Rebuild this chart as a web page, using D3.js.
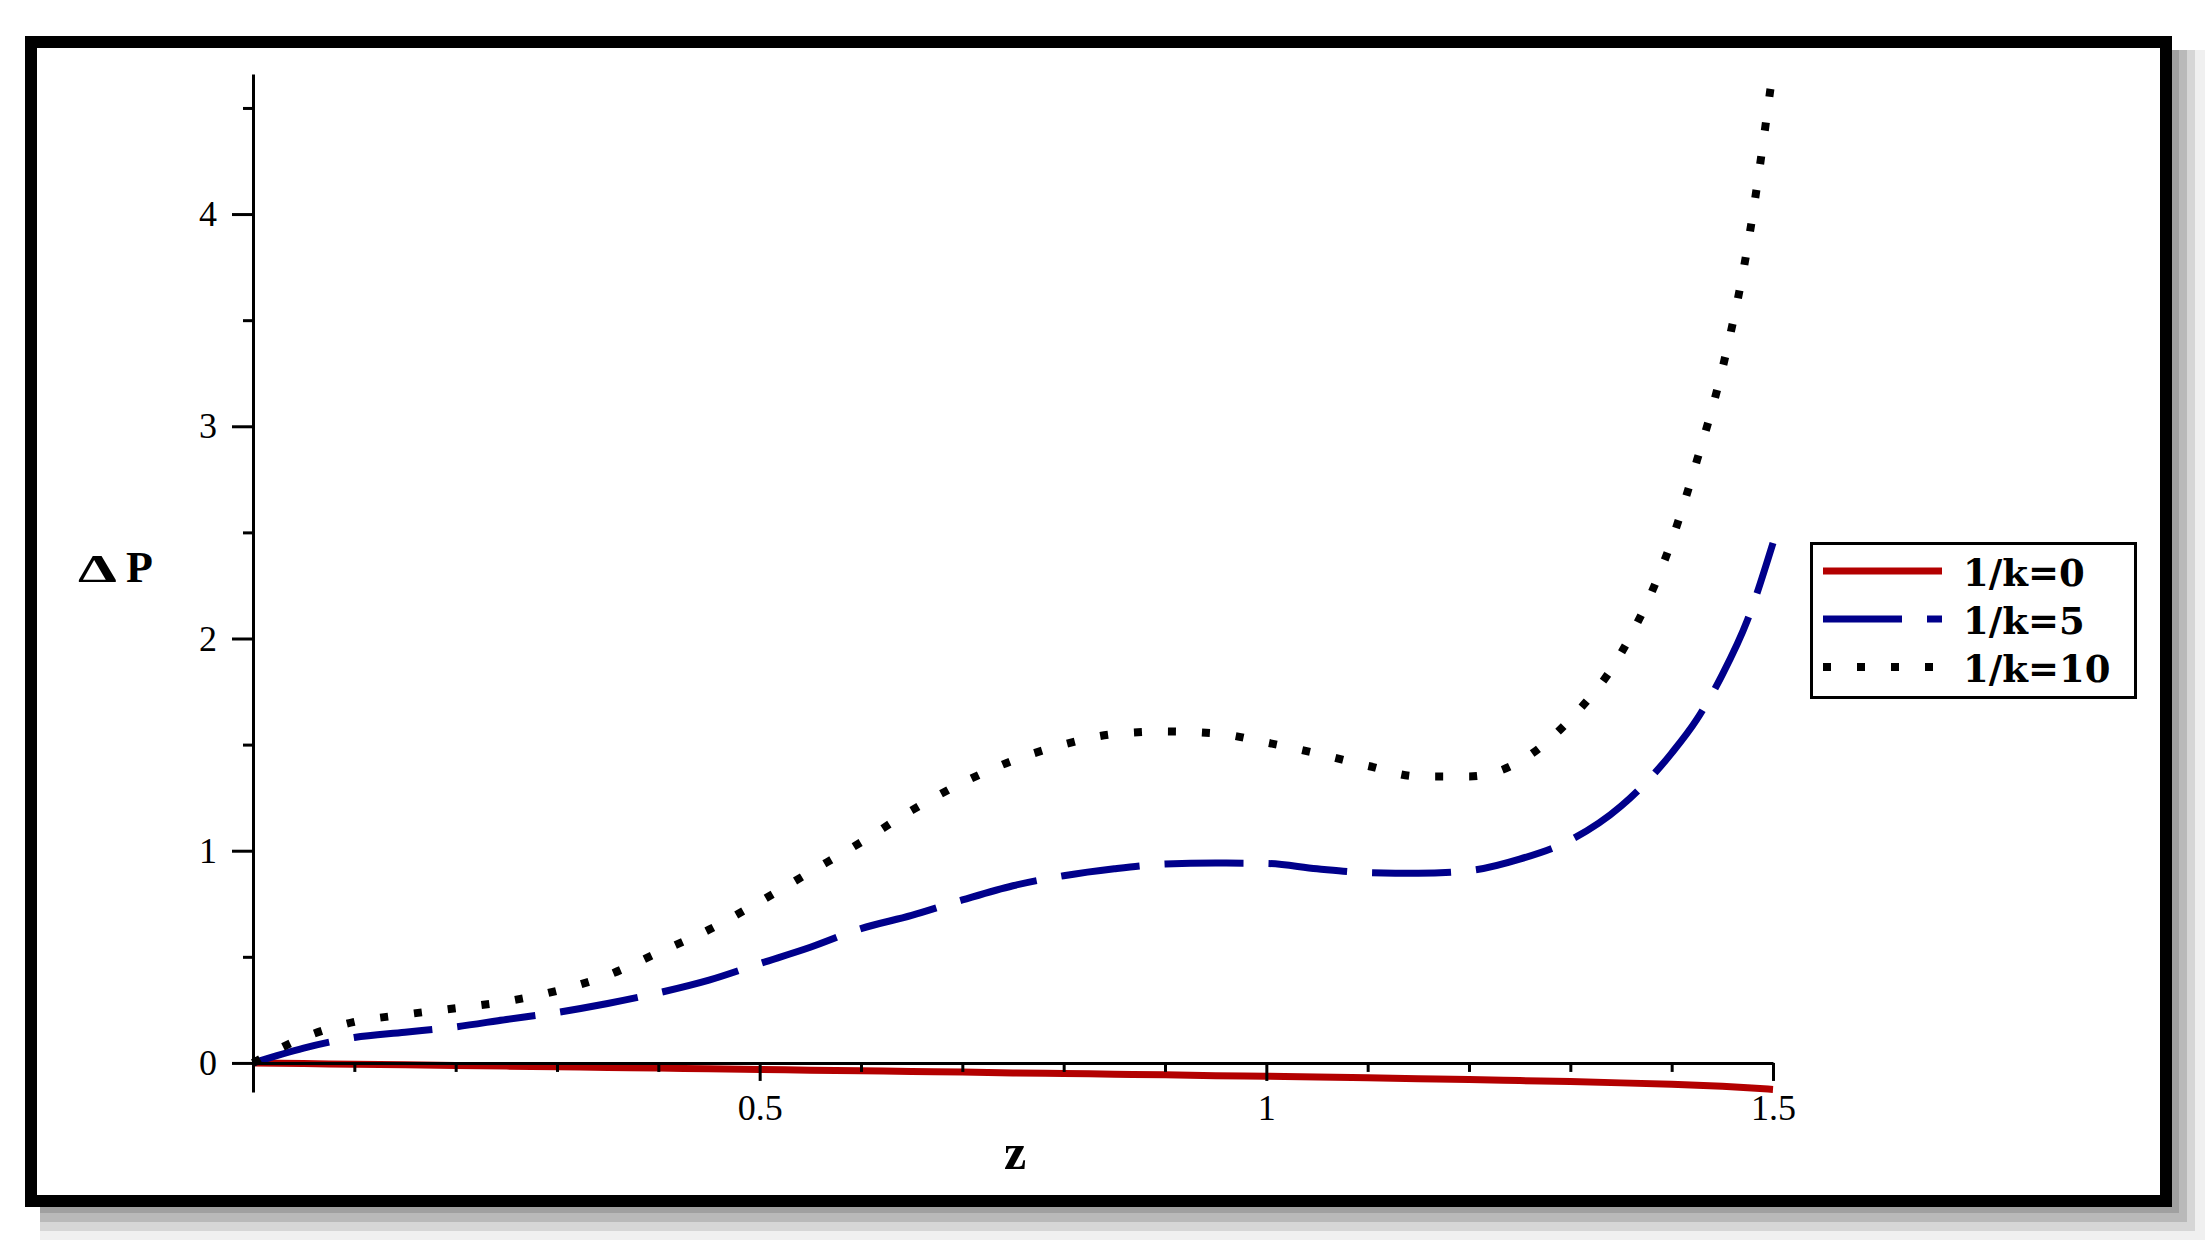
<!DOCTYPE html>
<html>
<head>
<meta charset="utf-8">
<script src="https://cdn.jsdelivr.net/npm/d3@7"></script>
<style>
  html, body { margin: 0; padding: 0; background: #fff; }
  svg { display: block; }
  .axis path, .axis line { stroke: #000; stroke-width: 3; }
  .axis text { font-family: "Liberation Serif", serif; font-size: 36px; fill: #000; }
</style>
</head>
<body>
<div id="app"></div>
<script>
// values
const zValues = [0, 0.05, 0.1, 0.15, 0.2, 0.25, 0.3, 0.35, 0.4, 0.45, 0.5, 0.55, 0.6, 0.65, 0.7, 0.75,
  0.8, 0.85, 0.9, 0.95, 1.0, 1.05, 1.1, 1.15, 1.2, 1.25, 1.3, 1.35, 1.4, 1.425, 1.45, 1.475, 1.5];
const dpK0 = [0, -0.003, -0.006, -0.009, -0.012, -0.015, -0.018, -0.021, -0.024, -0.028, -0.031, -0.034,
  -0.037, -0.040, -0.043, -0.047, -0.050, -0.053, -0.056, -0.060, -0.063, -0.066, -0.070, -0.074, -0.078,
  -0.083, -0.088, -0.094, -0.101, -0.105, -0.110, -0.117, -0.125];
const dpK5 = [0, 0.07, 0.12, 0.145, 0.17, 0.205, 0.238, 0.28, 0.33, 0.39, 0.468, 0.545, 0.633, 0.695,
  0.768, 0.835, 0.882, 0.915, 0.937, 0.942, 0.94, 0.915, 0.897, 0.894, 0.906, 0.96, 1.05, 1.21, 1.46,
  1.62, 1.83, 2.09, 2.45];
const dpK10 = [0, 0.12, 0.193, 0.228, 0.258, 0.29, 0.34, 0.413, 0.52, 0.628, 0.76, 0.9, 1.04, 1.19, 1.32,
  1.425, 1.5, 1.55, 1.562, 1.553, 1.51, 1.458, 1.4, 1.35, 1.35, 1.42, 1.62, 1.93, 2.46, 2.84, 3.27,
  3.85, 4.68];

const seriesNames = ["1/k=0", "1/k=5", "1/k=10"];
const xMajorTicks = [0.5, 1, 1.5];
const xMinorTicks = [0.1, 0.2, 0.3, 0.4, 0.6, 0.7, 0.8, 0.9, 1.1, 1.2, 1.3, 1.4];
const yMajorTicks = [0, 1, 2, 3, 4];
const yMinorTicks = [0.5, 1.5, 2.5, 3.5, 4.5];

const W = 2208, H = 1248;

const x = d3.scaleLinear().domain([0, 1.5]).range([253, 1773]);
const y = d3.scaleLinear().domain([-0.137, 4.66]).range([1092, 74]);

const svg = d3.select("#app").append("svg")
    .attr("width", W)
    .attr("height", H);

// drop shadow + frame
const shadow = [
  {x2: 2205, y2: 1240, c: "#f0f0f0"},
  {x2: 2195, y2: 1231, c: "#d6d6d6"},
  {x2: 2187, y2: 1222, c: "#b9b9b9"},
  {x2: 2179, y2: 1213, c: "#a0a0a0"}
];
svg.selectAll(".shadow")
    .data(shadow)
  .enter().append("rect")
    .attr("x", 40).attr("y", 50)
    .attr("width", d => d.x2 - 40)
    .attr("height", d => d.y2 - 50)
    .style("fill", d => d.c);

svg.append("rect")
    .attr("x", 31).attr("y", 42)
    .attr("width", 2135).attr("height", 1159)
    .style("fill", "#fff")
    .style("stroke", "#000")
    .style("stroke-width", 12);

const series = [
  {name: seriesNames[0], values: dpK0, color: "#b30000", width: 7, dash: null},
  {name: seriesNames[1], values: dpK5, color: "#00008b", width: 7, dash: "79 25"},
  {name: seriesNames[2], values: dpK10, color: "#000", width: 8, dash: "8 26"}
];

const line = d3.line()
    .x(d => x(d[0]))
    .y(d => y(d[1]))
    .curve(d3.curveMonotoneX);

svg.selectAll(".curve")
    .data(series)
  .enter().append("path")
    .attr("class", "curve")
    .attr("d", s => line(zValues.map((z, i) => [z, s.values[i]])))
    .style("fill", "none")
    .style("stroke", s => s.color)
    .style("stroke-width", s => s.width)
    .style("stroke-dasharray", s => s.dash);

// x axis (minor ticks + domain, then labelled major ticks)
svg.append("g")
    .attr("class", "axis")
    .attr("transform", `translate(0, ${y(0)})`)
    .call(d3.axisBottom(x).tickValues(xMinorTicks).tickSize(9).tickSizeOuter(0).tickFormat(""));

svg.append("g")
    .attr("class", "axis")
    .attr("transform", `translate(0, ${y(0)})`)
    .call(d3.axisBottom(x).tickValues(xMajorTicks).tickSize(18).tickPadding(14).tickFormat(d => d))
    .call(g => g.select(".domain").remove());

// y axis
svg.append("g")
    .attr("class", "axis")
    .attr("transform", `translate(${x(0)}, 0)`)
    .call(d3.axisLeft(y).tickValues(yMinorTicks).tickSize(10).tickSizeOuter(0).tickFormat(""));

svg.append("g")
    .attr("class", "axis")
    .attr("transform", `translate(${x(0)}, 0)`)
    .call(d3.axisLeft(y).tickValues(yMajorTicks).tickSize(21).tickPadding(15).tickFormat(d => d))
    .call(g => g.select(".domain").remove());

// axis titles
svg.append("text")
    .attr("transform", "translate(78, 582) scale(1.55, 1)")
    .style("font-family", "'Liberation Serif', serif")
    .style("font-weight", "bold")
    .style("font-size", "40px")
    .text("Δ");

svg.append("text")
    .attr("x", 126)
    .attr("y", 582)
    .style("font-family", "'Liberation Serif', serif")
    .style("font-weight", "bold")
    .style("font-size", "44px")
    .text("P");

svg.append("text")
    .attr("x", 1015)
    .attr("y", 1169)
    .style("text-anchor", "middle")
    .style("font-family", "'Liberation Serif', serif")
    .style("font-weight", "bold")
    .style("font-size", "50px")
    .text("z");

// legend
const legend = svg.append("g")
    .attr("transform", "translate(1810, 542)");

legend.append("rect")
    .attr("x", 1.5).attr("y", 1.5)
    .attr("width", 324).attr("height", 154)
    .style("fill", "#fff")
    .style("stroke", "#000")
    .style("stroke-width", 3);

const item = legend.selectAll(".item")
    .data(series)
  .enter().append("g")
    .attr("class", "item")
    .attr("transform", (d, i) => `translate(0, ${29 + i * 48})`);

item.append("line")
    .attr("x1", 13).attr("x2", 132)
    .style("stroke", d => d.color)
    .style("stroke-width", d => d.width)
    .style("stroke-dasharray", d => d.dash);

item.append("text")
    .attr("x", 153)
    .attr("y", 15)
    .style("font-family", "'DejaVu Serif', serif")
    .style("font-weight", "bold")
    .style("font-size", "37px")
    .text(d => d.name);
</script>
</body>
</html>
